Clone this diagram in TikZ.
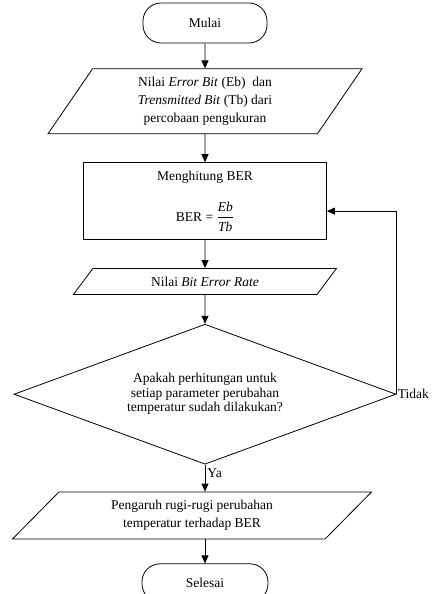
\documentclass[tikz,border=0pt]{standalone}
\usepackage{amsmath}
\usepackage{fontspec}
\setmainfont{Liberation Serif}
\usetikzlibrary{shapes.geometric, arrows.meta, positioning}

\begin{document}
\begin{tikzpicture}[->,>={Triangle[length=8pt,width=7pt]},line width=0.8pt,
 node distance=25pt,font=\fontsize{13.5}{18}\selectfont,
 terminal/.style={rectangle,rounded corners=18pt,draw,minimum width=124pt,minimum height=40pt},
 process/.style={rectangle,draw,minimum width=243pt,minimum height=77pt,align=center},
 data/.style={trapezium,draw,trapezium stretches body,align=center,inner sep=0pt},
 decision/.style={diamond,draw,align=center,inner sep=0pt,shape aspect=2.73,
   minimum width=382pt,minimum height=140pt,font=\fontsize{13.5}{14.5}\selectfont}]

  \useasboundingbox (-205pt,23pt) rectangle (231pt,-571pt);

  \node[terminal] (start) {Mulai};
  \node[data,trapezium left angle=47.3,trapezium right angle=132.7,minimum width=314pt,minimum height=65pt]
    (input) [below=25pt of start]
    {Nilai \textit{Error Bit} (Eb)~ dan\\ \textit{Trensmitted Bit} (Tb) dari\\ percobaan pengukuran};
  \node[process] (calc) [below=28pt of input]
    {Menghitung BER\\[18pt] BER = $\dfrac{\textit{Eb}}{\textit{Tb}}$};
  \node[data,trapezium left angle=26.1,trapezium right angle=153.9,minimum width=263pt,minimum height=26pt]
    (ber) [below=28pt of calc] {Nilai \textit{Bit Error Rate}};
  \node[decision] (check) [below=29pt of ber]
    {Apakah perhitungan untuk\\ setiap parameter perubahan\\ temperatur sudah dilakukan?};
  \node[data,trapezium left angle=33.1,trapezium right angle=146.9,minimum width=359pt,minimum height=47pt]
    (result) [below=27pt of check,xshift=-13pt]
    {Pengaruh rugi-rugi perubahan\\ temperatur terhadap BER};
  \node[terminal,minimum width=126pt,minimum height=38pt] (finish) [below=24pt of result,xshift=13pt] {Selesai};

  \foreach \s/\t in {start/input, input/calc, calc/ber, ber/check} {
   \path[draw] (\s) -- (\t);}

  \draw (check.south) -- (check.south |- result.north) node[pos=0.3,right,inner sep=2pt] (ya) {Ya};
  \draw (finish.north |- result.south) -- (finish);
  \draw (check.east) |- ([yshift=-10pt]calc.east);
  \node[inner sep=1pt] (tidak) [right=0pt of check.east] {Tidak};

\end{tikzpicture}
\end{document}
